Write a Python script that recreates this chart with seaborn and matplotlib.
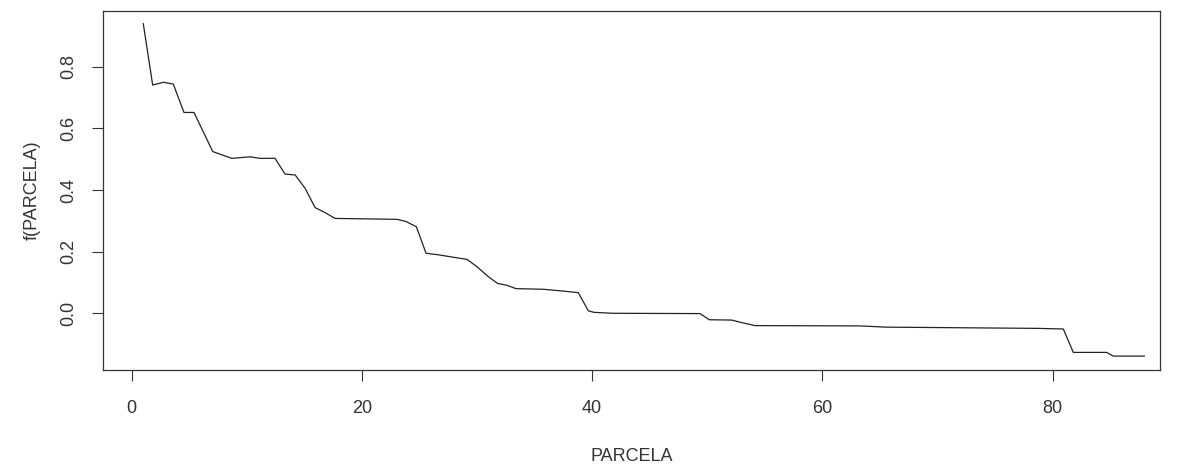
import matplotlib
matplotlib.use("Agg")
import matplotlib.pyplot as plt
import seaborn as sns
import pandas as pd

# vertices of the curve (x = PARCELA, y = f(PARCELA))
parcela = [1.0, 1.82, 2.75, 3.61, 4.54, 5.41, 7.04, 8.69, 10.28, 11.15, 12.45,
           13.32, 14.20, 15.06, 15.93, 16.79, 17.66, 23.05, 23.83, 24.73, 25.57,
           26.61, 27.94, 29.13, 30.00, 30.98, 31.78, 32.58, 33.39, 35.76, 37.50,
           38.80, 39.67, 40.17, 41.82, 49.38, 50.18, 52.13, 52.85, 54.15, 63.27,
           65.53, 78.77, 80.94, 81.81, 84.71, 85.28, 88.0]
f_parcela = [0.941, 0.741, 0.750, 0.744, 0.652, 0.652, 0.525, 0.503, 0.508, 0.503, 0.503,
             0.452, 0.449, 0.406, 0.343, 0.327, 0.308, 0.305, 0.298, 0.281, 0.195,
             0.190, 0.182, 0.175, 0.151, 0.119, 0.097, 0.091, 0.080, 0.078, 0.072,
             0.067, 0.008, 0.003, 0.000, -0.001, -0.021, -0.022, -0.029, -0.040, -0.041,
             -0.045, -0.049, -0.051, -0.127, -0.127, -0.139, -0.139]

x_ticks = [0, 20, 40, 60, 80]
y_ticks = [0.0, 0.2, 0.4, 0.6, 0.8]

df = pd.DataFrame({"PARCELA": parcela, "f": f_parcela})

sns.set_style("white")
plt.rcParams["font.family"] = ["Liberation Sans", "DejaVu Sans"]

fig = plt.figure(figsize=(11.8, 4.67), dpi=100)
ax = fig.add_axes([102.5 / 1180, 1 - 369.5 / 467, (1160 - 102.5) / 1180, 359 / 467])

sns.lineplot(data=df, x="PARCELA", y="f", sort=False, color="#222222",
             linewidth=0.9, ax=ax)

ax.set_xlim(-2.54, 89.34)
ax.set_ylim(-0.1825, 0.983)
ax.set_xticks(x_ticks)
ax.set_xticklabels([str(v) for v in x_ticks])
ax.set_yticks(y_ticks)
ax.set_yticklabels([f"{v:.1f}" for v in y_ticks], rotation=90, va="center")

for s in ax.spines.values():
    s.set_visible(True)
    s.set_color("#333333")
    s.set_linewidth(0.9)

# R style: outward ticks on bottom and left only
ax.tick_params(axis="both", direction="out", length=8, width=0.8,
               color="#333333", labelsize=13, labelcolor="#333333",
               bottom=True, left=True, top=False, right=False)
ax.tick_params(axis="x", pad=14)
ax.tick_params(axis="y", pad=10)

ax.set_xlabel("PARCELA", fontsize=13, color="#333333", labelpad=22)
ax.set_ylabel("f(PARCELA)", fontsize=13, color="#333333", labelpad=14)

fig.savefig("out.png", dpi=100)
